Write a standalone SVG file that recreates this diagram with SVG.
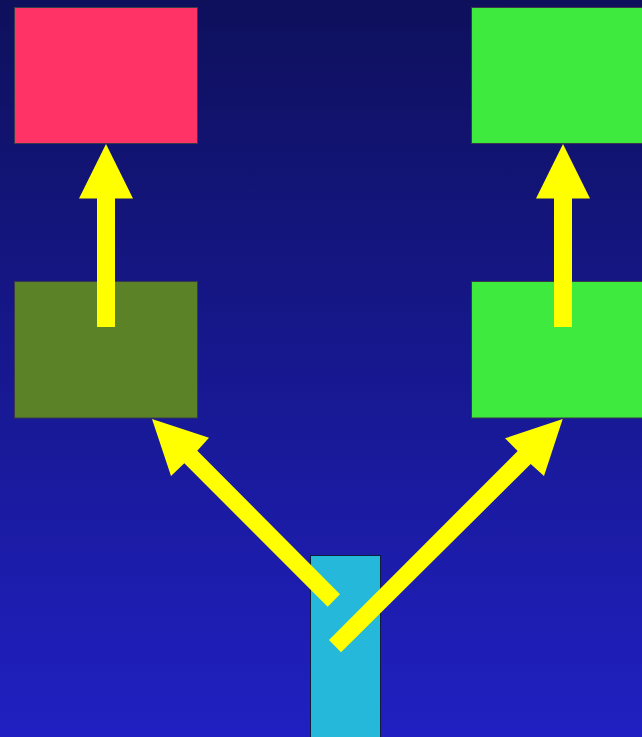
<svg xmlns="http://www.w3.org/2000/svg" width="642" height="737" viewBox="0 0 642 737">
  <defs>
    <linearGradient id="bg" x1="0" y1="0" x2="0" y2="1">
      <stop offset="0" stop-color="#0e105c"/>
      <stop offset="1" stop-color="#2020c2"/>
    </linearGradient>
    <style>
      .box { stroke: #3a3a4a; stroke-width: 1; }
      .arrow { fill: #ffff00; }
    </style>
  </defs>

  <rect x="0" y="0" width="642" height="737" fill="url(#bg)"/>

  <g id="node-red">
    <rect class="box" x="14.5" y="7.5" width="183" height="136" fill="#ff3366"/>
  </g>
  <g id="node-green-top">
    <rect class="box" x="471.5" y="7.5" width="180" height="136" fill="#3eea3e"/>
  </g>
  <g id="node-olive">
    <rect class="box" x="14.5" y="281.5" width="183" height="136.5" fill="#5b8226"/>
  </g>
  <g id="node-green-mid">
    <rect class="box" x="471.5" y="281.5" width="180" height="136.5" fill="#3eea3e"/>
  </g>
  <g id="node-cyan">
    <rect x="310.5" y="555.5" width="70" height="190" fill="#25b8da" stroke="#0c1a3c" stroke-width="1"/>
  </g>

  <g id="connectors" class="arrow">
    <!-- olive -> red -->
    <polygon points="106,144 133,198.5 115,198.5 115,327 97,327 97,198.5 79,198.5"/>
    <!-- green mid -> green top -->
    <polygon points="563,144 590,198.5 572,198.5 572,327 554,327 554,198.5 536,198.5"/>
    <!-- cyan -> olive -->
    <polygon points="152,419 209,437.7 197.3,450.7 340,594.3 327.7,606.7 184.3,463.3 171,476"/>
    <!-- cyan -> green mid -->
    <polygon points="562.7,419 544,476 530.7,464 341,652.3 329,640 517.7,451 505,438.3"/>
  </g>
</svg>
